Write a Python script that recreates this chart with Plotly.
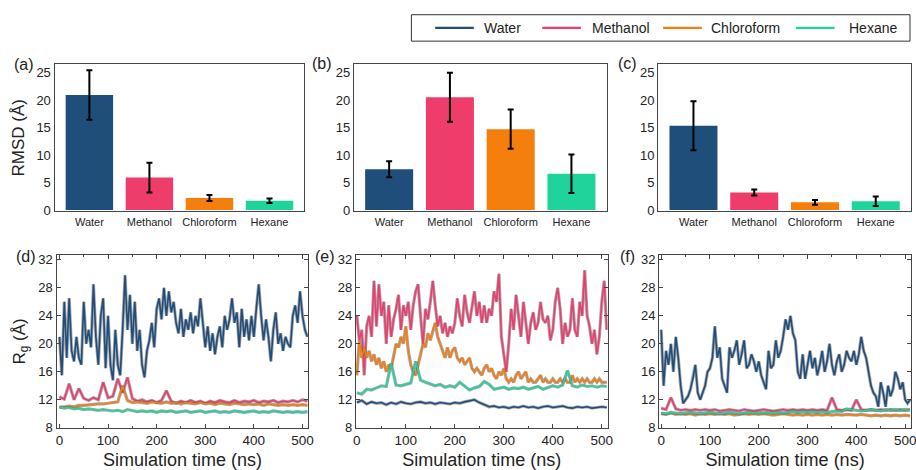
import numpy as np
import plotly.graph_objects as go

# ---------------------------------------------------------------- data
solvents = ["Water", "Methanol", "Chloroform", "Hexane"]
colors = ["#1f4e7a", "#ef3d6b", "#f57f0c", "#1fd49a"]

# RMSD (Å): mean and standard deviation for each system
rmsd_a = [20.9, 5.9, 2.2, 1.7]
err_a = [4.5, 2.7, 0.55, 0.4]
rmsd_b = [7.4, 20.5, 14.7, 6.6]
err_b = [1.45, 4.45, 3.55, 3.5]
rmsd_c = [15.3, 3.2, 1.4, 1.6]
err_c = [4.45, 0.55, 0.45, 0.85]

STEP_FINE = 5     # ns between samples, strongly fluctuating traces
STEP_COARSE = 10  # ns between samples, steady traces

# Radius of gyration (Å), system 1
d_water = [21, 15.5, 26, 18, 26.5, 19, 17.5, 21, 18, 17,
           26, 20, 22, 19.5, 28.5, 21, 17, 24, 26.5, 16.5,
           24, 17, 14.8, 22, 17, 15.5, 22, 29.8, 22, 27,
           20, 26, 19, 22, 17, 15.2, 19, 20.5, 23, 19.5,
           25, 26.5, 23.5, 28, 24, 27.5, 24.5, 26, 23, 21.5,
           25, 21, 23.5, 22, 24.5, 21.5, 24, 22.5, 26.5, 23,
           19.5, 22.5, 19, 21.5, 18.5, 21, 22.5, 19.5, 24, 22,
           23.5, 26.5, 23, 24.5, 19.5, 25, 21, 23.5, 20.5, 24,
           21, 25, 28.5, 24, 20.5, 23.5, 21, 17.5, 22, 24.5,
           20, 21.5, 19, 21, 20, 19.5, 24, 25.5, 23, 27.5,
           24, 22, 21]
d_meth = [12.4, 12.1, 14.3, 12.0, 13.6, 12.2, 11.9, 12.3, 12.0, 14.5,
          12.3, 12.5, 15.0, 13.0, 15.2, 12.2, 11.8, 12.0, 11.7, 11.9,
          11.6, 11.9, 13.3, 11.8, 11.5, 11.8, 11.6, 11.9, 11.6, 11.8,
          11.5, 11.8, 11.6, 11.9, 11.7, 11.6, 11.9, 11.6, 11.8, 11.7,
          11.9, 11.6, 11.8, 11.7, 11.9, 11.6, 11.8, 11.7, 11.9, 11.7,
          12.0, 11.8]
d_chl = [10.9, 11.0, 11.1, 11.0, 11.2, 11.2, 11.3, 11.3, 11.4, 11.4,
         11.5, 11.6, 11.7, 14.0, 11.9, 11.6, 11.7, 11.6, 11.5, 11.7,
         11.6, 11.5, 11.7, 11.5, 11.6, 11.4, 11.6, 11.5, 11.4, 11.6,
         11.4, 11.5, 11.3, 11.5, 11.4, 11.3, 11.5, 11.4, 11.3, 11.4,
         11.3, 11.4, 11.2, 11.4, 11.3, 11.2, 11.3, 11.2, 11.3, 11.2,
         11.3, 11.2]
d_hex = [11.0, 10.8, 10.9, 10.7, 10.8, 10.6, 10.7, 10.6, 10.5, 10.6,
         10.5, 10.4, 10.5, 10.3, 10.6, 10.4, 10.3, 10.4, 10.3, 10.4,
         10.2, 10.4, 10.3, 10.4, 10.2, 10.3, 10.4, 10.2, 10.3, 10.4,
         10.2, 10.3, 10.4, 10.2, 10.3, 10.2, 10.4, 10.3, 10.2, 10.3,
         10.4, 10.2, 10.3, 10.2, 10.4, 10.3, 10.2, 10.3, 10.2, 10.3,
         10.2, 10.3]

# Radius of gyration (Å), system 2
e_water = [11.6, 11.9, 11.4, 11.7, 11.5, 11.6, 11.3, 11.6, 11.4, 11.7,
           11.5, 11.4, 11.6, 11.7, 11.5, 11.6, 11.4, 11.6, 11.5, 11.4,
           11.6, 11.5, 11.7, 11.8, 12.0, 11.6, 11.3, 11.0, 11.1, 10.9,
           11.0, 10.8, 11.0, 10.9, 11.1, 10.9, 11.0, 10.8, 11.0, 11.1,
           10.9, 11.0, 11.1, 10.9, 10.8, 11.0, 10.9, 11.0, 10.8, 10.9,
           11.0, 10.9]
e_meth = [24, 20.5, 22, 15.5, 22.5, 24, 21, 29, 22.5, 28.5,
          24, 26, 20, 25.5, 21, 23.5, 25, 27, 22, 25.5,
          24, 26, 22, 25.5, 27.5, 28.5, 24, 20, 25, 23.5,
          26, 29, 25.5, 22.5, 24, 21.5, 23, 21, 22.5, 21.5,
          23, 26.5, 24, 22.5, 27, 24.5, 23, 25, 27.5, 24,
          26, 23, 25.5, 23, 25, 24, 27.5, 26, 30, 21,
          18.5, 16, 20, 25, 22, 27, 24, 21, 26, 23,
          20, 23, 24.5, 22, 23, 26, 23.5, 23, 24, 20.5,
          22, 26, 28, 25, 20, 23, 21, 22, 26.5, 22,
          21, 26, 24, 30.5, 24, 22.5, 20, 22, 18.5, 21,
          26, 29, 22]
e_chl = [15.5, 20.5, 18, 19.5, 18, 19, 17.5, 18.5, 17, 18,
         16.5, 17.5, 16, 17, 16.5, 18, 20, 19.5, 21, 20,
         22.5, 19, 17, 16, 15.5, 17, 18.5, 20, 19.5, 21.5,
         20.5, 22, 23, 21, 20, 19, 18, 19.5, 18, 19,
         19.5, 18, 17.5, 18, 17, 17.5, 18, 16.5, 16, 16.5,
         16, 15.5, 16.5, 17, 16, 16.5, 15.5, 15, 16, 15.5,
         16.5, 15, 14.5, 15, 14.5, 15.5, 16, 15, 15.5, 16,
         14.5, 15, 14.5, 14.5, 15, 15.5, 14.5, 15, 14.5, 14.5,
         15, 14.5, 14.5, 15, 14.5, 15, 14.5, 14.5, 15.5, 14.5,
         15, 14.5, 15, 14.5, 15, 14.5, 14.5, 15, 14.5, 15,
         14.5, 14.5, 14.5]
e_hex = [13.0, 12.8, 13.5, 13.4, 13.7, 14.0, 13.9, 17.2, 14.1, 14.0,
         14.2, 14.4, 17.5, 14.8, 14.5, 14.3, 14.0, 14.2, 13.8, 14.0,
         13.8, 14.5, 14.0, 13.4, 13.7, 13.9, 14.6, 14.2, 13.5, 13.6,
         13.8, 13.5, 13.7, 13.6, 13.8, 13.5, 13.7, 13.9, 13.5, 13.8,
         14.0, 13.8, 14.1, 16.2, 14.0, 13.8, 14.1, 13.9, 14.0, 13.8,
         14.0, 13.9]

# Radius of gyration (Å), system 3
f_water = [22, 14, 19, 17, 20, 16, 21, 18, 14, 11.5,
           12, 12.5, 13.5, 15, 17, 13, 12, 13, 14, 16,
           16.5, 18, 22.5, 18, 19.5, 15, 14, 13, 19.5, 18,
           19, 20.5, 17, 18.5, 20.5, 16.5, 17, 18.5, 17.5, 16,
           17.5, 15.5, 14.5, 13.5, 19, 16.5, 17, 20.5, 18, 19,
           21, 23.5, 22, 24, 21.5, 20.5, 16, 15, 18.5, 15,
           17, 19, 16.5, 18, 15.5, 17, 19, 16, 17.5, 20,
           17, 15.5, 17.5, 18.5, 16, 17, 19, 18, 17.5, 19,
           17, 18.5, 21, 19, 18, 16, 14, 13, 12.5, 11,
           14.5, 13, 11, 14, 12.5, 13.5, 16, 15, 13.5, 14.5,
           12, 11.5, 12]
f_meth = [10.8, 10.6, 12.3, 10.7, 10.5, 10.6, 10.5, 10.6, 10.5, 10.6,
          10.5, 10.6, 10.4, 10.5, 10.6, 10.5, 10.4, 10.6, 10.5, 10.4,
          10.5, 10.6, 10.5, 10.4, 10.5, 10.6, 10.5, 10.6, 10.5, 10.6,
          10.5, 10.6, 10.5, 10.6, 10.5, 12.3, 10.6, 10.5, 10.6, 10.5,
          12.0, 10.6, 10.5, 10.6, 10.5, 10.6, 10.5, 10.6, 10.5, 10.6,
          10.5, 10.6]
f_chl = [10.0, 9.9, 10.1, 9.9, 10.0, 9.9, 10.0, 9.8, 10.0, 9.9,
         10.0, 9.9, 10.0, 9.9, 10.0, 9.8, 9.9, 10.0, 9.9, 10.0,
         9.9, 10.0, 9.9, 9.8, 9.9, 10.0, 9.9, 9.8, 9.9, 9.8,
         9.9, 9.8, 9.9, 9.8, 9.9, 9.8, 9.9, 9.8, 9.9, 9.8,
         9.8, 9.9, 9.8, 9.7, 9.8, 9.7, 9.8, 9.7, 9.8, 9.7,
         9.8, 9.7]
f_hex = [10.1, 10.0, 10.2, 10.1, 10.0, 10.1, 10.2, 10.1, 10.0, 10.1,
         10.2, 10.1, 10.0, 10.1, 10.2, 10.1, 10.0, 10.1, 10.2, 10.1,
         10.2, 10.1, 10.2, 10.1, 10.2, 10.1, 10.2, 10.3, 10.2, 10.3,
         10.2, 10.3, 10.2, 10.3, 10.2, 10.3, 10.4, 10.3, 10.7, 10.6,
         10.5, 10.4, 10.5, 10.6, 10.5, 10.4, 10.6, 10.5, 10.6, 10.5,
         10.6, 10.5]

rg_panels = [
    [(d_water, STEP_FINE), (d_meth, STEP_COARSE), (d_chl, STEP_COARSE), (d_hex, STEP_COARSE)],
    [(e_water, STEP_COARSE), (e_meth, STEP_FINE), (e_chl, STEP_FINE), (e_hex, STEP_COARSE)],
    [(f_water, STEP_FINE), (f_meth, STEP_COARSE), (f_chl, STEP_COARSE), (f_hex, STEP_COARSE)],
]
bar_panels = [(rmsd_a, err_a), (rmsd_b, err_b), (rmsd_c, err_c)]

# ---------------------------------------------------------------- layout helpers
W, H = 916, 470
FONT = "Liberation Sans, Arial, sans-serif"
INK = "#222222"
FRAME = "#444444"


def px_x(p):
    return p / W


def px_y(p):
    return 1 - p / H


def hx(p0, p1):
    return [px_x(p0), min(px_x(p1), 1.0)]


def vy(p_top, p_bottom):
    return [px_y(p_bottom), px_y(p_top)]


bar_x_dom = [hx(52, 304), hx(354, 609), hx(661, 916)]
bar_y_dom = vy(63.5, 214)
rg_x_dom = [hx(54, 308), hx(356, 610), hx(662, 916)]
rg_y_dom = vy(258.5, 435)
rg_x_rng = [[-6, 512], [-2, 512], [-4, 512]]

fig = go.Figure()

# ---------------------------------------------------------------- RMSD bars
for i, (vals, errs) in enumerate(bar_panels):
    k = i + 1
    fig.add_trace(go.Bar(
        x=solvents, y=vals, width=0.79,
        marker=dict(color=colors, line=dict(width=0)),
        error_y=dict(type="data", array=errs, color="black", thickness=2, width=3),
        xaxis=f"x{k}", yaxis=f"y{k}", showlegend=False,
    ))

# ---------------------------------------------------------------- Rg traces
for i, panel in enumerate(rg_panels):
    k = i + 4
    for j, (vals, step) in enumerate(panel):
        t = np.arange(len(vals)) * step
        fig.add_trace(go.Scatter(
            x=t, y=vals, mode="lines",
            line=dict(color="rgba(95,95,105,0.55)", width=3.2),
            xaxis=f"x{k}", yaxis=f"y{k}", showlegend=False, hoverinfo="skip",
        ))
        fig.add_trace(go.Scatter(
            x=t, y=vals, mode="lines", name=solvents[j],
            line=dict(color=colors[j], width=1.6),
            xaxis=f"x{k}", yaxis=f"y{k}", showlegend=False,
        ))

layout = dict(
    width=W, height=H,
    margin=dict(l=0, r=0, t=0, b=0),
    paper_bgcolor="white", plot_bgcolor="white",
    font=dict(family=FONT, color=INK, size=13),
    showlegend=False,
)

for i in range(3):
    k = i + 1
    layout[f"xaxis{k}"] = dict(
        domain=bar_x_dom[i], anchor=f"y{k}", range=[-0.58, 3.58],
        showline=True, mirror=True, linecolor=FRAME, linewidth=1.2,
        ticks="", tickfont=dict(size=11), showgrid=False, zeroline=False,
        ticklabeloverflow="allow",
    )
    ya = dict(
        domain=bar_y_dom, anchor=f"x{k}", range=[-0.25, 26.5],
        tickvals=[0, 5, 10, 15, 20, 25], tickfont=dict(size=13),
        showline=True, mirror=True, linecolor=FRAME, linewidth=1.2,
        ticks="", showgrid=False, zeroline=False,
    )
    if i == 0:
        ya["title"] = dict(text="RMSD (Å)", font=dict(size=17), standoff=7)
    layout[f"yaxis{k}"] = ya

for i in range(3):
    k = i + 4
    layout[f"xaxis{k}"] = dict(
        domain=rg_x_dom[i], anchor=f"y{k}", range=rg_x_rng[i],
        tickvals=[0, 100, 200, 300, 400, 500], tickfont=dict(size=13.5),
        showline=True, mirror="ticks", linecolor=FRAME, linewidth=1.2,
        ticks="inside", ticklen=4, tickcolor=FRAME,
        minor=dict(dtick=50, tick0=0, ticks="inside", ticklen=2, tickcolor=FRAME),
        showgrid=False, zeroline=False, ticklabeloverflow="allow",
        title=dict(text="Simulation time (ns)", font=dict(size=18), standoff=6),
    )
    ya = dict(
        domain=rg_y_dom, anchor=f"x{k}", range=[8, 32.7],
        tickvals=[8, 12, 16, 20, 24, 28, 32], tickfont=dict(size=13),
        showline=True, mirror="ticks", linecolor=FRAME, linewidth=1.2,
        ticks="inside", ticklen=4, tickcolor=FRAME,
        showgrid=False, zeroline=False,
    )
    if i == 0:
        ya["title"] = dict(text="R<sub>g</sub> (Å)", font=dict(size=17), standoff=8)
    layout[f"yaxis{k}"] = ya

fig.update_layout(**layout)

# panel letters
tags = [("(a)", 21, 64), ("(b)", 322, 63), ("(c)", 630, 63),
        ("(d)", 23, 260), ("(e)", 325, 260), ("(f)", 630, 260)]
for txt, px, py in tags:
    fig.add_annotation(text=txt, x=px_x(px), y=px_y(py), xref="paper", yref="paper",
                       xanchor="center", yanchor="middle", showarrow=False,
                       font=dict(size=16, color=INK))

# key: framed row of swatches across the top right
key_box = (412, 13, 915, 40)
key_lines = [436, 544, 666, 800]
key_text = [483, 592, 712, 851]
key_mid = (key_box[1] + key_box[3]) / 2
fig.add_shape(type="rect", xref="paper", yref="paper",
              x0=px_x(key_box[0]), x1=px_x(key_box[2]),
              y0=px_y(key_box[3]), y1=px_y(key_box[1]),
              line=dict(color="#333333", width=1), fillcolor="white", layer="below")
for name, col, lx, tx in zip(solvents, colors, key_lines, key_text):
    fig.add_shape(type="line", xref="paper", yref="paper",
                  x0=px_x(lx), x1=px_x(lx + 39), y0=px_y(key_mid), y1=px_y(key_mid),
                  line=dict(color=col, width=2.2))
    fig.add_annotation(text=name, x=px_x(tx), y=px_y(key_mid), xref="paper", yref="paper",
                       xanchor="left", yanchor="middle", showarrow=False,
                       font=dict(size=14, color=INK))

fig.write_html("out.html")
